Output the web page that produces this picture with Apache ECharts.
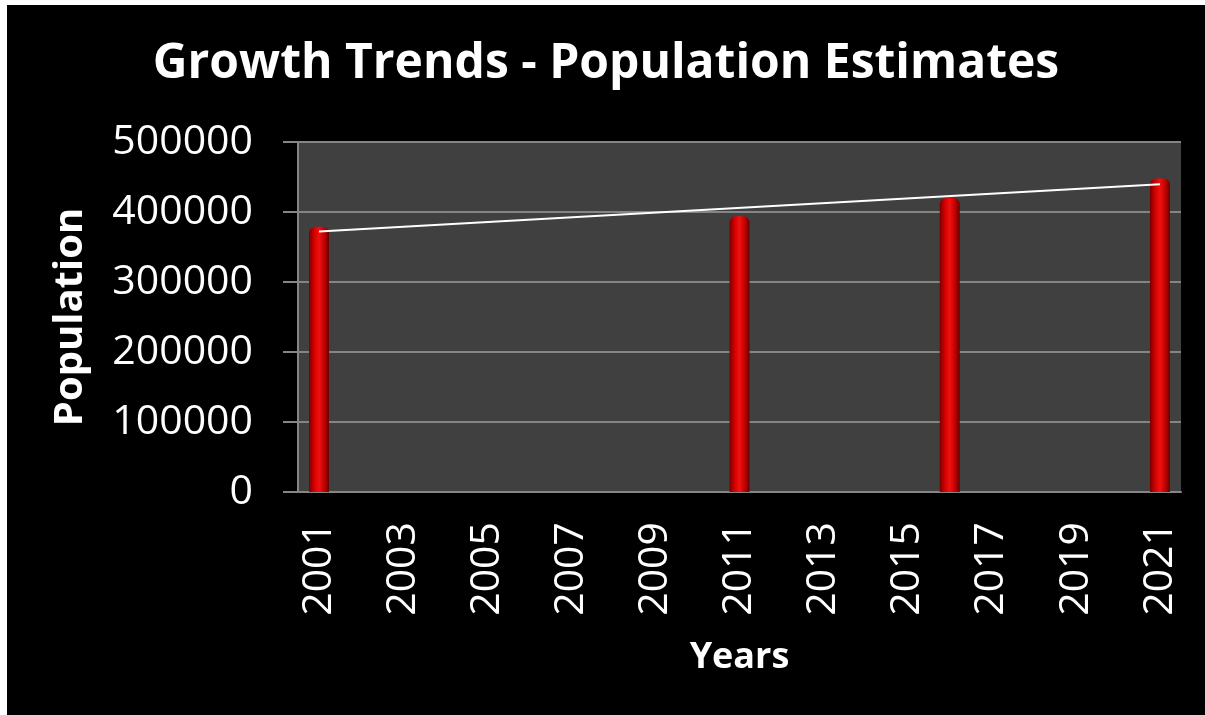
<!DOCTYPE html>
<html>
<head>
<meta charset="utf-8">
<script src="https://cdn.jsdelivr.net/npm/echarts@6/dist/echarts.min.js"></script>
<style>
  html, body { margin: 0; padding: 0; background: #000000; overflow: hidden; }
  #edgeLeft { position: absolute; left: 0; top: 0; width: 7px; height: 100%; background: #ffffff; }
  #edgeTop { position: absolute; left: 0; top: 0; width: 100%; height: 5px; background: #ffffff; }
  #main { position: absolute; left: 7px; top: 5px; width: 1198px; height: 710px; }
</style>
</head>
<body>
<div id="edgeLeft"></div>
<div id="edgeTop"></div>
<div id="main"></div>
<script>
// years on the axis, 2001..2021
var years = ['2001', '2002', '2003', '2004', '2005', '2006', '2007', '2008', '2009', '2010',
  '2011', '2012', '2013', '2014', '2015', '2016', '2017', '2018', '2019', '2020', '2021'];
// census / estimate points
var pointYears = ['2001', '2011', '2016', '2021'];
var population = [379000, 394000, 420000, 448000];
var yTicks = [0, 100000, 200000, 300000, 400000, 500000];

// bar data aligned to the year axis
var barData = years.map(function (y) {
  var i = pointYears.indexOf(y);
  return i < 0 ? null : population[i];
});

// linear trendline (least squares on the year values)
var xs = pointYears.map(Number);
var n = xs.length;
var mx = xs.reduce(function (a, b) { return a + b; }, 0) / n;
var my = population.reduce(function (a, b) { return a + b; }, 0) / n;
var sxy = 0, sxx = 0;
for (var i = 0; i < n; i++) {
  sxy += (xs[i] - mx) * (population[i] - my);
  sxx += (xs[i] - mx) * (xs[i] - mx);
}
var slope = sxy / sxx;
var first = pointYears[0], last = pointYears[n - 1];
var trendData = years.map(function (y) {
  if (y === first || y === last) return my + slope * (Number(y) - mx);
  return null;
});

var font = '"Open Sans", sans-serif';
var chart = echarts.init(document.getElementById('main'));
chart.setOption({
  backgroundColor: '#000000',
  animation: false,
  title: {
    text: 'Growth Trends - Population Estimates',
    left: 'center',
    top: 30,
    textStyle: { color: '#ffffff', fontFamily: font, fontWeight: 'bold', fontSize: 48 }
  },
  grid: {
    left: 291, right: 24, top: 137, bottom: 223,
    show: true, backgroundColor: '#404040', borderWidth: 0
  },
  xAxis: {
    type: 'category',
    data: years,
    boundaryGap: true,
    name: 'Years',
    nameLocation: 'middle',
    nameGap: 148,
    nameTextStyle: { color: '#ffffff', fontFamily: font, fontWeight: 'bold', fontSize: 36 },
    axisLine: { lineStyle: { color: '#858585', width: 2 } },
    axisTick: { show: false },
    axisLabel: {
      interval: 1, rotate: 90, margin: 30,
      color: '#ffffff', fontFamily: font, fontSize: 41
    },
    splitLine: { show: false }
  },
  yAxis: {
    type: 'value',
    min: yTicks[0], max: yTicks[yTicks.length - 1], interval: 100000,
    name: 'Population',
    nameLocation: 'middle',
    nameGap: 207,
    nameRotate: 90,
    nameTextStyle: { color: '#ffffff', fontFamily: font, fontWeight: 'bold', fontSize: 40 },
    axisLine: { show: true, lineStyle: { color: '#858585', width: 2 } },
    axisTick: { show: true, inside: false, length: 15, lineStyle: { color: '#858585', width: 2 } },
    axisLabel: {
      margin: 45, color: '#ffffff', fontFamily: font, fontSize: 41,
      formatter: function (v) { return String(v); }
    },
    splitLine: { lineStyle: { color: '#858585', width: 2 } }
  },
  series: [
    {
      type: 'bar',
      data: barData,
      barWidth: 20,
      itemStyle: {
        borderRadius: [6, 6, 0, 0],
        color: new echarts.graphic.LinearGradient(0, 0, 1, 0, [
          { offset: 0, color: '#7a0000' },
          { offset: 0.25, color: '#d00000' },
          { offset: 0.5, color: '#f01010' },
          { offset: 0.8, color: '#b80000' },
          { offset: 1, color: '#600000' }
        ])
      }
    },
    {
      type: 'line',
      data: trendData,
      connectNulls: true,
      symbol: 'none',
      lineStyle: { color: '#ffffff', width: 2 },
      z: 5
    }
  ]
});
</script>
</body>
</html>
